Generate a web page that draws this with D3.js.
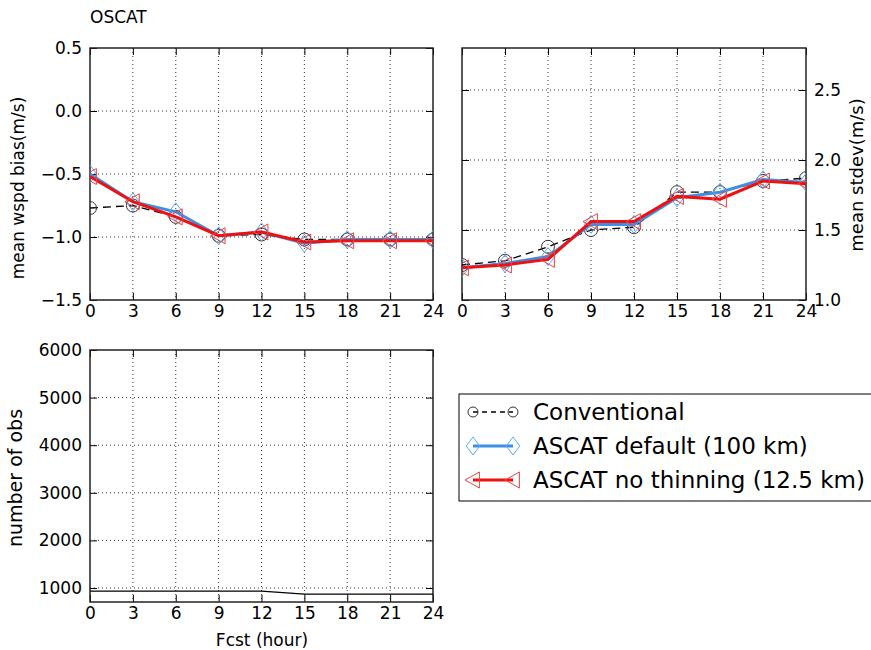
<!DOCTYPE html>
<html>
<head>
<meta charset="utf-8">
<script src="https://cdn.jsdelivr.net/npm/d3@7"></script>
<style>
  body { margin: 0; background: #fff; }
  svg text { font-family: "DejaVu Sans", sans-serif; fill: #000; }
</style>
</head>
<body>
<div id="chart"></div>
<script>
var fcst = [0, 3, 6, 9, 12, 15, 18, 21, 24];
var xTicks = [0, 3, 6, 9, 12, 15, 18, 21, 24];

var biasConv = [-0.77, -0.75, -0.84, -0.99, -0.98, -1.02, -1.02, -1.02, -1.02];
var biasDefault = [-0.50, -0.72, -0.80, -0.99, -0.96, -1.05, -1.02, -1.02, -1.02];
var biasNoThin = [-0.52, -0.72, -0.84, -0.99, -0.96, -1.04, -1.03, -1.03, -1.03];

var stdConv = [1.25, 1.28, 1.38, 1.50, 1.52, 1.77, 1.77, 1.85, 1.87];
var stdDefault = [1.23, 1.26, 1.31, 1.54, 1.54, 1.73, 1.77, 1.86, 1.84];
var stdNoThin = [1.23, 1.25, 1.29, 1.56, 1.56, 1.74, 1.72, 1.85, 1.83];

var nobs = [935, 935, 935, 935, 935, 870, 870, 870, 870];

var biasTicks = [0.5, 0.0, -0.5, -1.0, -1.5];
var stdTicks = [1.0, 1.5, 2.0, 2.5];
var nobsTicks = [1000, 2000, 3000, 4000, 5000, 6000];

var legendNames = ["Conventional", "ASCAT default (100 km)", "ASCAT no thinning (12.5 km)"];

var width = 871, height = 650;
var svg = d3.select("#chart").append("svg")
    .attr("width", width)
    .attr("height", height);

function panel(x0, x1, y0, y1, yDomain, yTicks, yFmt, rightAxis) {
    var x = d3.scaleLinear().domain([0, 24]).range([x0, x1]);
    var y = d3.scaleLinear().domain(yDomain).range([y1, y0]);
    var g = svg.append("g");

    // dotted grid
    g.selectAll(".gx").data(xTicks.slice(1, -1)).enter().append("line")
        .attr("x1", d => x(d)).attr("x2", d => x(d))
        .attr("y1", y0).attr("y2", y1)
        .attr("stroke", "#000").attr("stroke-width", 0.8)
        .attr("stroke-dasharray", "1,3");
    g.selectAll(".gy").data(yTicks.filter(d => y(d) > y0 + 1 && y(d) < y1 - 1)).enter().append("line")
        .attr("x1", x0).attr("x2", x1)
        .attr("y1", d => y(d)).attr("y2", d => y(d))
        .attr("stroke", "#000").attr("stroke-width", 0.8)
        .attr("stroke-dasharray", "1,3");

    // inward ticks on all sides
    g.append("g").attr("transform", "translate(0," + y1 + ")")
        .call(d3.axisBottom(x).tickValues(xTicks).tickSizeInner(-7).tickSizeOuter(0).tickPadding(5));
    g.append("g").attr("transform", "translate(0," + y0 + ")")
        .call(d3.axisTop(x).tickValues(xTicks).tickSizeInner(-7).tickSizeOuter(0).tickFormat(""));
    g.append("g").attr("transform", "translate(" + x0 + ",0)")
        .call(d3.axisLeft(y).tickValues(yTicks).tickSizeInner(-7).tickSizeOuter(0)
            .tickPadding(8).tickFormat(rightAxis ? "" : yFmt));
    g.append("g").attr("transform", "translate(" + x1 + ",0)")
        .call(d3.axisRight(y).tickValues(yTicks).tickSizeInner(-7).tickSizeOuter(0)
            .tickPadding(8).tickFormat(rightAxis ? yFmt : ""));
    g.selectAll(".domain").remove();
    g.selectAll(".tick line").attr("stroke", "#000").attr("stroke-width", 1);
    g.selectAll(".tick text").style("font-size", "17px").attr("fill", "#222");

    g.append("rect")
        .attr("x", x0).attr("y", y0)
        .attr("width", x1 - x0).attr("height", y1 - y0)
        .attr("fill", "none").attr("stroke", "#222").attr("stroke-width", 1.5);

    var clipId = "clip" + Math.round(x0) + "_" + Math.round(y0);
    svg.append("clipPath").attr("id", clipId).append("rect")
        .attr("x", x0).attr("y", y0).attr("width", x1 - x0).attr("height", y1 - y0);
    var plot = svg.append("g").attr("clip-path", "url(#" + clipId + ")");
    return { x: x, y: y, plot: plot };
}

var styles = [
    { line: "#000", width: 1.3, dash: "8,5", mark: "circle", mstroke: "#333", msize: 6.5 },
    { line: "#3d8fe3", width: 3, dash: null, mark: "diamond", mstroke: "#55aaff", msize: 9 },
    { line: "#f01010", width: 3, dash: null, mark: "triangle", mstroke: "#ee4444", msize: 8 }
];

function markerPath(type, s) {
    if (type === "circle") return d3.symbol().type(d3.symbolCircle).size(Math.PI * s * s)();
    if (type === "diamond") return "M0," + (-s) + "L" + (s * 0.75) + ",0L0," + s + "L" + (-s * 0.75) + ",0Z";
    return "M" + (-s) + ",0L" + (s * 0.8) + "," + (-s) + "L" + (s * 0.8) + "," + s + "Z";
}

function series(p, values, st) {
    var line = d3.line().x((d, i) => p.x(fcst[i])).y(d => p.y(d));
    p.plot.append("path").datum(values)
        .attr("d", line)
        .attr("fill", "none")
        .attr("stroke", st.line)
        .attr("stroke-width", st.width)
        .attr("stroke-dasharray", st.dash);
    p.plot.selectAll(null).data(values).enter().append("path")
        .attr("d", markerPath(st.mark, st.msize))
        .attr("transform", (d, i) => "translate(" + p.x(fcst[i]) + "," + p.y(d) + ")")
        .attr("fill", "none")
        .attr("stroke", st.mstroke)
        .attr("stroke-width", 1);
}

var fmt1 = d3.format(".1f");

// top left: bias
var pBias = panel(90, 433, 48, 300, [-1.5, 0.5], biasTicks, fmt1, false);
series(pBias, biasConv, styles[0]);
series(pBias, biasDefault, styles[1]);
series(pBias, biasNoThin, styles[2]);

// top right: stdev
var pStd = panel(462, 806, 48, 300, [1.0, 2.8], stdTicks, fmt1, true);
series(pStd, stdConv, styles[0]);
series(pStd, stdDefault, styles[1]);
series(pStd, stdNoThin, styles[2]);

// bottom: number of obs
var pObs = panel(90, 433, 350, 602, [706, 6000], nobsTicks, d3.format("d"), false);
pObs.plot.append("path").datum(nobs)
    .attr("d", d3.line().x((d, i) => pObs.x(fcst[i])).y(d => pObs.y(d)))
    .attr("fill", "none").attr("stroke", "#000").attr("stroke-width", 1.3);

// labels
svg.append("text").attr("x", 90).attr("y", 23).style("font-size", "17px").text("OSCAT");
svg.append("text").attr("transform", "translate(24,188) rotate(-90)")
    .attr("text-anchor", "middle").style("font-size", "17px").text("mean wspd bias(m/s)");
svg.append("text").attr("transform", "translate(863,175) rotate(-90)")
    .attr("text-anchor", "middle").style("font-size", "18px").text("mean stdev(m/s)");
svg.append("text").attr("transform", "translate(22,478) rotate(-90)")
    .attr("text-anchor", "middle").style("font-size", "19px").text("number of obs");
svg.append("text").attr("x", 262).attr("y", 646)
    .attr("text-anchor", "middle").style("font-size", "17px").text("Fcst (hour)");

// legend
var lg = svg.append("g");
lg.append("rect").attr("x", 459).attr("y", 394).attr("width", 420).attr("height", 107)
    .attr("fill", "#fff").attr("stroke", "#000").attr("stroke-width", 1);
legendNames.forEach(function (name, i) {
    var st = styles[i], yy = 412 + i * 34;
    lg.append("line").attr("x1", 473).attr("x2", 513).attr("y1", yy).attr("y2", yy)
        .attr("stroke", st.line).attr("stroke-width", st.width)
        .attr("stroke-dasharray", i === 0 ? "5,4" : null);
    [473, 513].forEach(function (mx) {
        lg.append("path").attr("d", markerPath(st.mark, i === 0 ? 5 : st.msize))
            .attr("transform", "translate(" + mx + "," + yy + ")")
            .attr("fill", "none").attr("stroke", st.mstroke).attr("stroke-width", 1);
    });
    lg.append("text").attr("x", 533).attr("y", yy + 8).style("font-size", "23px").text(name);
});
</script>
</body>
</html>
